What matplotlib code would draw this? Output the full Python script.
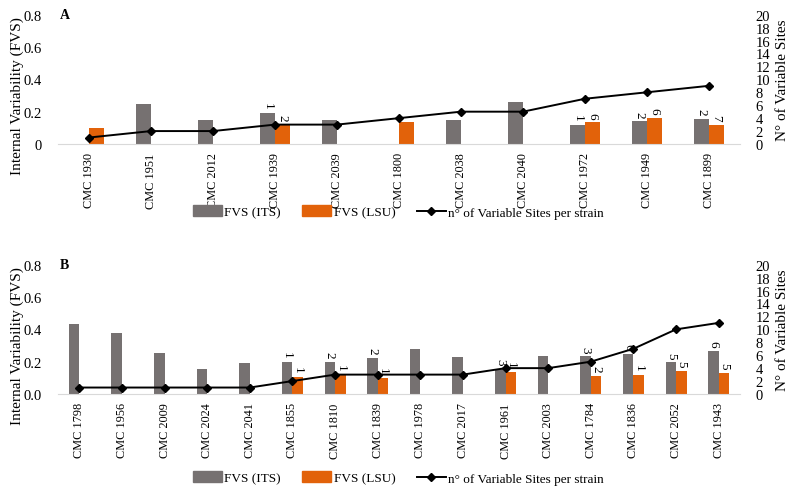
import matplotlib
matplotlib.use("Agg")
import matplotlib.pyplot as plt
import numpy as np
from matplotlib.patches import Patch
from matplotlib.lines import Line2D

# panel A
strains_a = ["CMC 1930", "CMC 1951", "CMC 2012", "CMC 1939", "CMC 2039", "CMC 1800",
             "CMC 2038", "CMC 2040", "CMC 1972", "CMC 1949", "CMC 1899"]
its_a = [0, 0.25, 0.15, 0.19, 0.15, 0, 0.15, 0.26, 0.12, 0.14, 0.155]
lsu_a = [0.10, 0, 0, 0.12, 0, 0.135, 0, 0, 0.134, 0.16, 0.12]
sites_a = [1, 2, 2, 3, 3, 4, 5, 5, 7, 8, 9]
its_lab_a = [None, None, None, "1", None, None, None, None, "1", "2", "2"]
lsu_lab_a = [None, None, None, "2", None, None, None, None, "6", "6", "7"]

# panel B
strains_b = ["CMC 1798", "CMC 1956", "CMC 2009", "CMC 2024", "CMC 2041", "CMC 1855",
             "CMC 1810", "CMC 1839", "CMC 1978", "CMC 2017", "CMC 1961", "CMC 2003",
             "CMC 1784", "CMC 1836", "CMC 2052", "CMC 1943"]
its_b = [0.433, 0.377, 0.254, 0.153, 0.19, 0.196, 0.2, 0.225, 0.278, 0.227,
         0.155, 0.237, 0.233, 0.25, 0.196, 0.268]
lsu_b = [0, 0, 0, 0, 0, 0.103, 0.12, 0.10, 0, 0, 0.136, 0, 0.113, 0.118, 0.142, 0.13]
sites_b = [1, 1, 1, 1, 1, 2, 3, 3, 3, 3, 4, 4, 5, 7, 10, 11]
its_lab_b = [None, None, None, None, None, "1", "2", "2", None, None, "3", None, "3", "6", "5", "6"]
lsu_lab_b = [None, None, None, None, None, "1", "1", "1", None, None, "1", None, "2", "1", "5", "5"]

GRAY = "#767171"
ORANGE = "#E2620A"
SERIF = "Liberation Serif"

fig = plt.figure(figsize=(7.97, 5.02), dpi=100)


def panel(rect, strains, its, lsu, sites, its_lab, lsu_lab, letter, zero_fmt, leg_y, lab_y):
    ax = fig.add_axes(rect)
    x = np.arange(len(strains))
    w = 0.245
    ax.bar(x - w / 2, its, w, color=GRAY)
    ax.bar(x + w / 2, lsu, w, color=ORANGE)
    for i in range(len(strains)):
        if its_lab[i]:
            ax.annotate(its_lab[i], (x[i] - w / 2, its[i]), xytext=(0, 3), textcoords="offset points",
                        rotation=270, ha="center", va="bottom", fontsize=9.5, family=SERIF)
        if lsu_lab[i]:
            ax.annotate(lsu_lab[i], (x[i] + w / 2, lsu[i]), xytext=(0, 3), textcoords="offset points",
                        rotation=270, ha="center", va="bottom", fontsize=9.5, family=SERIF)
    ax.set_xlim(-0.5, len(strains) - 0.5)
    ax.set_ylim(0, 0.8)
    ax.set_yticks([0, 0.2, 0.4, 0.6, 0.8])
    ax.set_yticklabels([zero_fmt, "0.2", "0.4", "0.6", "0.8"], family=SERIF, fontsize=10.5)
    ax.set_xticks(x)
    ax.set_xticklabels(strains, rotation=90, family=SERIF, fontsize=8.8)
    ax.tick_params(axis="both", length=0)
    ax.tick_params(axis="y", pad=12)
    ax.tick_params(axis="x", pad=6)
    for s in ["top", "right", "left"]:
        ax.spines[s].set_visible(False)
    ax.spines["bottom"].set_color("#D9D9D9")

    ax2 = ax.twinx()
    ax2.plot(x, sites, color="black", lw=1.4, marker="D", markersize=4.5)
    ax2.set_ylim(0, 20)
    ax2.set_yticks(range(0, 21, 2))
    ax2.set_yticklabels([str(v) for v in range(0, 21, 2)], family=SERIF, fontsize=10.5)
    ax2.tick_params(axis="y", length=0, pad=11)
    for s in ["top", "right", "left", "bottom"]:
        ax2.spines[s].set_visible(False)

    top = rect[1] + rect[3]
    fig.text(60 / 797, top + 0.0, letter, fontweight="bold", family=SERIF, fontsize=10, va="center")
    fig.text(17 / 797, lab_y, "Internal Variability (FVS)", rotation=90, ha="center", va="center",
             family=SERIF, fontsize=11)
    fig.text(783 / 797, rect[1] + rect[3] * 0.5, "N° of Variable Sites", rotation=90, ha="center",
             va="center", family=SERIF, fontsize=11)

    handles = [Patch(color=GRAY), Patch(color=ORANGE),
               Line2D([], [], color="black", lw=1.4, marker="D", markersize=4.5)]
    fig.legend(handles, ["FVS (ITS)", "FVS (LSU)", "n° of Variable Sites per strain"],
               loc="center", bbox_to_anchor=(0.5, leg_y), ncol=3, frameon=False,
               prop={"family": SERIF, "size": 9.5}, handlelength=2.2, handleheight=0.9,
               handletextpad=0.2, columnspacing=1.6)
    return ax


panel([58 / 797, 1 - 145 / 502, 682 / 797, 129.3 / 502], strains_a, its_a, lsu_a, sites_a,
      its_lab_a, lsu_lab_a, "A", "0", 1 - 213 / 502, 1 - 96 / 502)
panel([58 / 797, 1 - 395 / 502, 682 / 797, 129.3 / 502], strains_b, its_b, lsu_b, sites_b,
      its_lab_b, lsu_lab_b, "B", "0.0", 1 - 479 / 502, 1 - 346 / 502)

fig.savefig("out.png", dpi=100)
